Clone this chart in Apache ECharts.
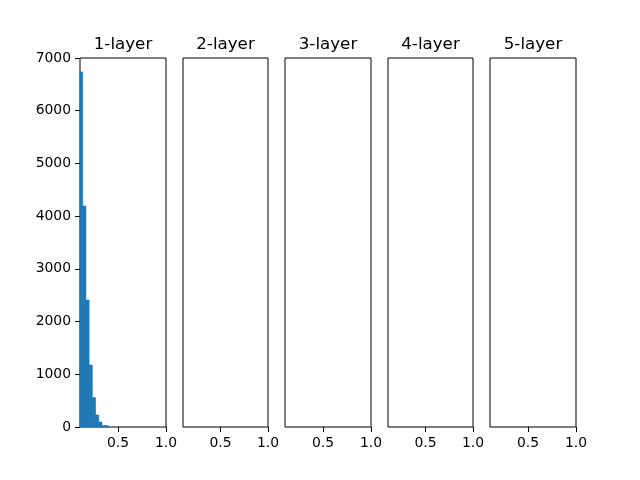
<!DOCTYPE html>
<html>
<head>
<meta charset="utf-8">
<script src="https://cdn.jsdelivr.net/npm/echarts@6/dist/echarts.min.js"></script>
<style>html,body{margin:0;padding:0;background:#fff}#c{width:640px;height:480px}</style>
</head>
<body>
<div id="c"></div>
<script>
// Data
var titles = ['1-layer', '2-layer', '3-layer', '4-layer', '5-layer'];
var binWidth = 1 / 30;
var binStarts = [0.1, 0.1333, 0.1667, 0.2, 0.2333, 0.2667, 0.3, 0.3333, 0.3667];
var layer1Counts = [6736, 4193, 2410, 1176, 556, 228, 95, 28, 27];
var xTicks = [0.5, 1.0];
var yMax = 7000;
var yInterval = 1000;
var xMin = 0.105, xMax = 1.0;

(function () {
var chart = echarts.init(document.getElementById('c'), null, {renderer: 'canvas'});

var figLeft = 80, figRight = 576, gTop = 58, gBottom = 480 - 427;
var n = 5, wspace = 0.2;
var w = (figRight - figLeft) / (n + (n - 1) * wspace);
var gap = w * wspace;

var grids = [], xAxes = [], yAxes = [], series = [], graphics = [];
var font = 'DejaVu Sans';
for (var i = 0; i < n; i++) {
  var l = Math.round(figLeft + i * (w + gap));
  var r = Math.round(figLeft + i * (w + gap) + w);
  grids.push({left: l, width: r - l, top: gTop, bottom: gBottom, show: true,
    borderColor: '#000', borderWidth: 1, backgroundColor: 'transparent', containLabel: false});
  xAxes.push({type: 'value', gridIndex: i, min: xMin, max: xMax,
    axisLine: {show: false, onZero: false},
    axisTick: {show: true, length: 5, customValues: xTicks, lineStyle: {color: '#000'}},
    axisLabel: {show: true, customValues: xTicks, margin: 9, color: '#000', fontSize: 13.9, fontFamily: font,
      formatter: function (v) { return Number(v).toFixed(1); }},
    splitLine: {show: false}});
  yAxes.push({type: 'value', gridIndex: i, min: 0, max: yMax, interval: yInterval,
    axisLine: {show: false},
    axisTick: {show: i === 0, length: 5, lineStyle: {color: '#000'}},
    axisLabel: {show: i === 0, margin: 9, color: '#000', fontSize: 13.9, fontFamily: font,
      formatter: function (v) { return String(v); }},
    splitLine: {show: false}});
  graphics.push({type: 'text', x: (l + r) / 2, y: 53.5, silent: true,
    style: {text: titles[i], textAlign: 'center', textVerticalAlign: 'bottom',
      fontSize: 16.7, fontFamily: font, fill: '#000'}});
}

var histData = binStarts.map(function (s, k) { return [s, s + binWidth, layer1Counts[k]]; });

series.push({
  type: 'custom', xAxisIndex: 0, yAxisIndex: 0,
  data: histData,
  encode: {x: [0, 1], y: 2},
  renderItem: function (params, api) {
    var p0 = api.coord([api.value(0), 0]);
    var p1 = api.coord([api.value(1), api.value(2)]);
    var rect = echarts.graphic.clipRectByRect(
      {x: p0[0], y: p1[1], width: p1[0] - p0[0], height: p0[1] - p1[1]},
      {x: params.coordSys.x, y: params.coordSys.y, width: params.coordSys.width, height: params.coordSys.height});
    if (!rect) return;
    return {type: 'rect', shape: rect, style: {fill: '#1f77b4', stroke: '#1f77b4', lineWidth: 0.6}};
  }
});
for (var j = 1; j < n; j++) {
  series.push({type: 'custom', xAxisIndex: j, yAxisIndex: j, data: [],
    renderItem: function () { return; }});
}

chart.setOption({
  animation: false,
  grid: grids,
  xAxis: xAxes,
  yAxis: yAxes,
  series: series,
  graphic: graphics
});
})();
</script>
</body>
</html>
